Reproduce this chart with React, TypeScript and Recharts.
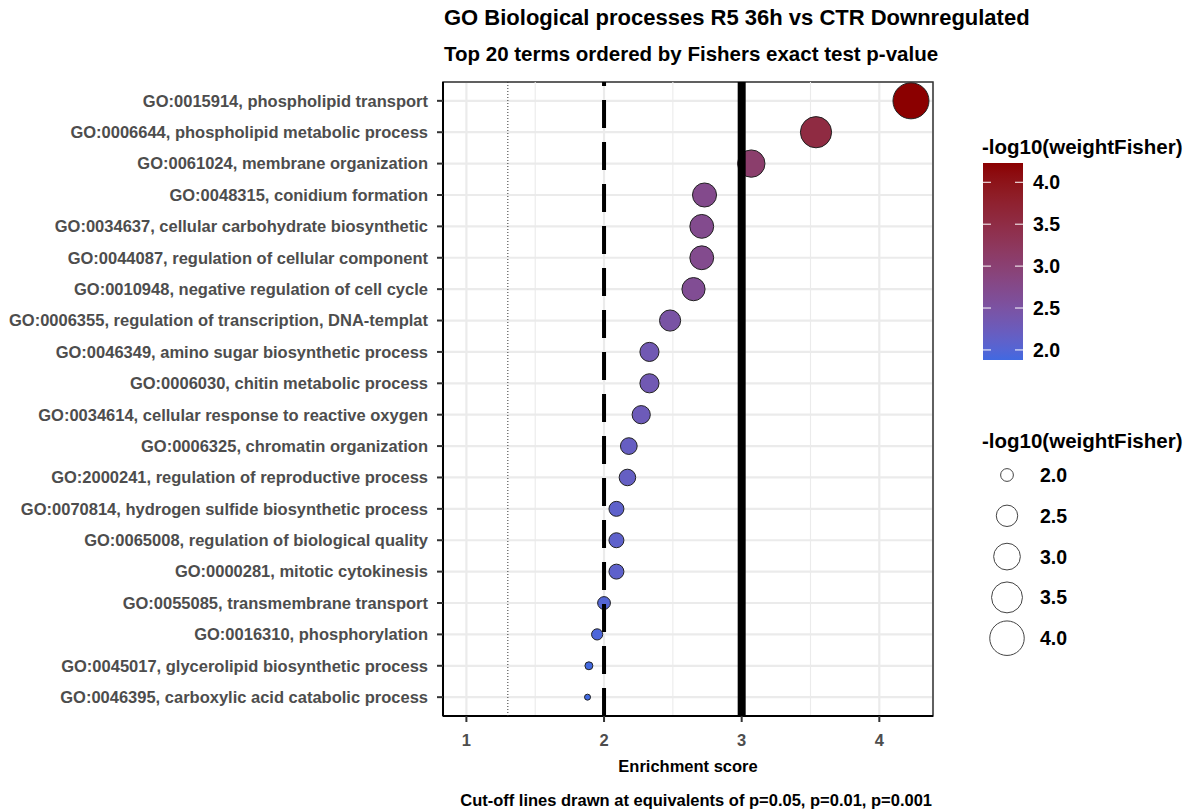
import {
  ScatterChart, Scatter, XAxis, YAxis, CartesianGrid, ReferenceLine, ReferenceArea,
} from 'recharts'

// GO terms, top to bottom
const terms = [
  'GO:0015914, phospholipid transport',
  'GO:0006644, phospholipid metabolic process',
  'GO:0061024, membrane organization',
  'GO:0048315, conidium formation',
  'GO:0034637, cellular carbohydrate biosynthetic',
  'GO:0044087, regulation of cellular component',
  'GO:0010948, negative regulation of cell cycle',
  'GO:0006355, regulation of transcription, DNA-templat',
  'GO:0046349, amino sugar biosynthetic process',
  'GO:0006030, chitin metabolic process',
  'GO:0034614, cellular response to reactive oxygen',
  'GO:0006325, chromatin organization',
  'GO:2000241, regulation of reproductive process',
  'GO:0070814, hydrogen sulfide biosynthetic process',
  'GO:0065008, regulation of biological quality',
  'GO:0000281, mitotic cytokinesis',
  'GO:0055085, transmembrane transport',
  'GO:0016310, phosphorylation',
  'GO:0045017, glycerolipid biosynthetic process',
  'GO:0046395, carboxylic acid catabolic process',
]

// -log10(weightFisher), also used as enrichment score
const scores = [4.23, 3.54, 3.07, 2.73, 2.71, 2.71, 2.65, 2.48, 2.33, 2.33, 2.27, 2.18, 2.17, 2.09, 2.09, 2.09, 2.0, 1.95, 1.89, 1.88]

const xTicks = [1, 2, 3, 4]
const minorTicks = [1.5, 2.5, 3.5]
const cutoffs = [1.301, 2, 3] // p=0.05, 0.01, 0.001
const legendBreaks = [2.0, 2.5, 3.0, 3.5, 4.0]
const xDomain = [0.83, 4.39]

const FONT = '"Liberation Sans", Arial, sans-serif'
const LOW = '#4169E1'
const HIGH = '#8B0000'

const vMin = Math.min(...scores)
const vMax = Math.max(...scores)

// colour ramp in CIELAB like ggplot's scale_colour_gradient
const toLin = (c: number) => { c /= 255; return c <= 0.04045 ? c / 12.92 : Math.pow((c + 0.055) / 1.055, 2.4) }
const fromLin = (c: number) => {
  const v = c <= 0.0031308 ? 12.92 * c : 1.055 * Math.pow(c, 1 / 2.4) - 0.055
  return Math.round(Math.max(0, Math.min(1, v)) * 255)
}
const f = (t: number) => (t > 0.008856 ? Math.cbrt(t) : 7.787 * t + 16 / 116)
const finv = (t: number) => (t * t * t > 0.008856 ? t * t * t : (t - 16 / 116) / 7.787)

function hexToLab(hex: string) {
  const r = toLin(parseInt(hex.slice(1, 3), 16))
  const g = toLin(parseInt(hex.slice(3, 5), 16))
  const b = toLin(parseInt(hex.slice(5, 7), 16))
  const X = (0.4124 * r + 0.3576 * g + 0.1805 * b) / 0.95047
  const Y = 0.2126 * r + 0.7152 * g + 0.0722 * b
  const Z = (0.0193 * r + 0.1192 * g + 0.9505 * b) / 1.08883
  const fx = f(X), fy = f(Y), fz = f(Z)
  return [116 * fy - 16, 500 * (fx - fy), 200 * (fy - fz)]
}

function labToHex([L, a, bb]: number[]) {
  const fy = (L + 16) / 116
  const fx = fy + a / 500
  const fz = fy - bb / 200
  const X = 0.95047 * finv(fx), Y = finv(fy), Z = 1.08883 * finv(fz)
  const r = fromLin(3.2406 * X - 1.5372 * Y - 0.4986 * Z)
  const g = fromLin(-0.9689 * X + 1.8758 * Y + 0.0415 * Z)
  const b = fromLin(0.0557 * X - 0.204 * Y + 1.057 * Z)
  return '#' + [r, g, b].map(v => v.toString(16).padStart(2, '0')).join('')
}

const labLow = hexToLab(LOW)
const labHigh = hexToLab(HIGH)

function colorFor(v: number) {
  const t = Math.max(0, Math.min(1, (v - vMin) / (vMax - vMin)))
  return labToHex(labLow.map((c, i) => c + (labHigh[i] - c) * t))
}

// area scale like ggplot's scale_size
function radiusFor(v: number) {
  const t = Math.max(0, (v - vMin) / (vMax - vMin))
  return 3 + 15 * Math.sqrt(t)
}

const data = terms.map((term, i) => ({ term, idx: i, score: scores[i] }))

const Dot = (props: any) => {
  const { cx, cy, payload } = props
  if (cx == null || cy == null) return null
  return <circle cx={cx} cy={cy} r={radiusFor(payload.score)} fill={colorFor(payload.score)} stroke="#222" strokeWidth={1} />
}

function Legends() {
  const barTop = 163, barH = 197, barX = 983, barW = 40
  const barY = (v: number) => barTop + barH - ((v - vMin) / (vMax - vMin)) * barH
  const stops = Array.from({ length: 21 }, (_, i) => i / 20)
  const sizeY0 = 475, sizeStep = 40.8
  return (
    <svg width={1190} height={812} style={{ position: 'absolute', left: 0, top: 0, pointerEvents: 'none' }} fontFamily={FONT} fontWeight="bold">
      <text x={444} y={17} fontSize={22} dominantBaseline="central" fill="#000">GO Biological processes R5 36h vs CTR Downregulated</text>
      <text x={444} y={53} fontSize={20.5} dominantBaseline="central" fill="#000">Top 20 terms ordered by Fishers exact test p-value</text>
      <text x={688} y={766} fontSize={16.5} textAnchor="middle" dominantBaseline="central" fill="#000">Enrichment score</text>
      <text x={932} y={800} fontSize={16.5} textAnchor="end" dominantBaseline="central" fill="#000">Cut-off lines drawn at equivalents of p=0.05, p=0.01, p=0.001</text>

      <defs>
        <linearGradient id="cbar" x1="0" y1="1" x2="0" y2="0">
          {stops.map(s => (
            <stop key={s} offset={s} stopColor={colorFor(vMin + s * (vMax - vMin))} />
          ))}
        </linearGradient>
      </defs>
      <text x={982} y={146} fontSize={20.5} dominantBaseline="central" fill="#000">-log10(weightFisher)</text>
      <rect x={barX} y={barTop} width={barW} height={barH} fill="url(#cbar)" />
      {legendBreaks.map(v => (
        <g key={v}>
          <line x1={barX} x2={barX + 8} y1={barY(v)} y2={barY(v)} stroke="#fff" strokeWidth={1} />
          <line x1={barX + barW - 8} x2={barX + barW} y1={barY(v)} y2={barY(v)} stroke="#fff" strokeWidth={1} />
          <text x={1033} y={barY(v)} fontSize={19.5} dominantBaseline="central" fill="#000">{v.toFixed(1)}</text>
        </g>
      ))}

      <text x={982} y={440} fontSize={20.5} dominantBaseline="central" fill="#000">-log10(weightFisher)</text>
      {legendBreaks.map((v, i) => (
        <g key={v}>
          <circle cx={1007} cy={sizeY0 + i * sizeStep} r={radiusFor(v)} fill="none" stroke="#444" strokeWidth={1} />
          <text x={1040} y={sizeY0 + i * sizeStep} fontSize={19.5} dominantBaseline="central" fill="#000">{v.toFixed(1)}</text>
        </g>
      ))}
    </svg>
  )
}

export default function App() {
  return (
    <div style={{ position: 'absolute', left: 0, top: 0, width: 1190, height: 812, background: '#fff', fontFamily: FONT }}>
      <ScatterChart width={1190} height={812} margin={{ top: 82, right: 257, left: 0, bottom: 0 }}>
        <CartesianGrid stroke="#EBEBEB" strokeWidth={2.2} />
        {minorTicks.map(t => (
          <ReferenceLine key={t} x={t} stroke="#EBEBEB" strokeWidth={1.1} />
        ))}
        <XAxis
          type="number"
          dataKey="score"
          domain={xDomain}
          allowDataOverflow
          ticks={xTicks}
          height={96}
          axisLine={{ stroke: '#000', strokeWidth: 2 }}
          tickLine={{ stroke: '#333', strokeWidth: 2 }}
          tickSize={6}
          tickMargin={12}
          tick={{ fill: '#4D4D4D', fontSize: 16.5, fontWeight: 'bold', fontFamily: FONT }}
        />
        <YAxis
          type="number"
          dataKey="idx"
          domain={[-0.6, terms.length - 0.4]}
          reversed
          ticks={terms.map((_, i) => i)}
          interval={0}
          tickFormatter={(i: number) => terms[i] ?? ''}
          width={443}
          axisLine={{ stroke: '#000', strokeWidth: 2 }}
          tickLine={{ stroke: '#333', strokeWidth: 2 }}
          tickSize={6}
          tickMargin={9}
          tick={{ fill: '#4D4D4D', fontSize: 16.5, fontWeight: 'bold', fontFamily: FONT }}
        />
        <ReferenceArea x1={xDomain[0]} x2={xDomain[1]} y1={-0.6} y2={terms.length - 0.4} fill="none" stroke="#333" strokeWidth={1.5} ifOverflow="visible" />
        <Scatter data={data} shape={<Dot />} isAnimationActive={false} />
        <ReferenceLine x={cutoffs[0]} stroke="#333" strokeWidth={1} strokeDasharray="1 2" zIndex={700} />
        <ReferenceLine x={cutoffs[1]} stroke="#000" strokeWidth={4} strokeDasharray="28 14" zIndex={700} />
        <ReferenceLine x={cutoffs[2]} stroke="#000" strokeWidth={8} zIndex={700} />
      </ScatterChart>
      <Legends />
    </div>
  )
}
